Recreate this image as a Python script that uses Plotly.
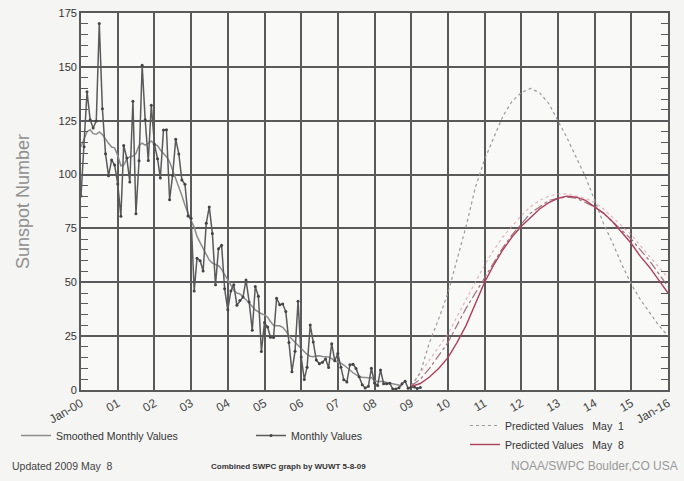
import pandas as pd
import plotly.graph_objects as go

# ---------------- data ----------------
monthly_values = [
    90.1, 112.9, 138.5, 125.5, 121.6, 124.9, 170.1, 130.5, 109.7, 99.4, 106.8, 104.4,
    95.6, 80.6, 113.5, 107.7, 96.6, 134.0, 81.8, 106.4, 150.7, 125.5, 106.5, 132.2,
    114.1, 107.4, 98.4, 120.7, 120.8, 88.3, 99.6, 116.4, 109.6, 97.5, 95.5, 80.8,
    79.7, 46.0, 61.1, 60.0, 55.2, 77.4, 85.0, 72.7, 48.8, 65.6, 67.2, 47.0,
    37.2, 46.0, 48.9, 39.3, 41.5, 43.2, 51.1, 40.9, 27.7, 48.0, 43.5, 17.9,
    31.3, 29.2, 24.5, 24.4, 42.6, 39.6, 39.9, 36.4, 22.1, 8.5, 18.0, 41.2,
    15.3, 4.9, 10.6, 30.2, 22.3, 13.9, 12.2, 12.9, 14.4, 10.4, 21.5, 13.6,
    16.9, 10.6, 4.8, 3.7, 11.7, 12.0, 10.0, 6.2, 2.4, 0.9, 1.7, 10.1,
    3.3, 2.1, 9.3, 2.9, 2.9, 3.1, 0.5, 0.5, 1.1, 2.9, 4.1, 0.8,
    1.5, 1.4, 0.7, 1.2,
]
smoothed_values = [
    112.9, 116.8, 119.9, 120.8, 119.0, 118.7, 119.8, 118.6, 116.2, 114.5, 112.8, 112.4,
    108.8, 104.1, 104.4, 107.2, 108.3, 108.6, 109.8, 113.5, 114.6, 113.7, 114.5, 115.6,
    114.0, 113.4, 111.4, 109.6, 108.3, 105.9, 102.0, 98.2, 94.8, 90.3, 85.8, 81.9,
    78.6, 75.6, 71.3, 68.4, 65.8, 63.3, 60.3, 58.9, 58.3, 57.7, 56.0, 53.8,
    51.0, 48.7, 46.2, 45.0, 44.6, 43.4, 41.9, 40.4, 38.8, 37.2, 36.3, 35.4,
    34.9, 33.8, 31.8, 30.0, 29.8, 29.8, 29.1, 27.4, 25.1, 23.6, 22.1, 20.7,
    19.0, 17.4, 16.5, 15.7, 15.4, 15.8, 15.9, 15.6, 15.3, 15.3, 14.6, 13.5,
    13.0, 12.5, 11.6, 10.6, 9.3, 8.0, 7.0, 6.2, 5.9, 5.7, 5.7, 5.8,
    4.3, 4.0, 4.1, 4.0, 3.5, 3.2, 3.1, 2.8, 2.5, 2.0,
]
# predictions, quarterly from Jan 2009 to Jan 2016
pred_may1_high = [2, 8, 22, 33, 45, 60, 76, 94, 107, 117, 127, 134, 138, 140, 138, 133,
                  125, 117, 108, 99, 88, 77, 68, 58, 49, 42, 36, 30, 25]
pred_may1_low = [2, 5, 10, 16, 22, 30, 38, 45, 52, 59, 66, 72, 77, 82, 85, 88,
                 89, 89.5, 89, 87, 85, 82, 78, 74, 70, 65, 60, 54, 48]
pred_may8 = [1.7, 3, 6, 10, 15, 22, 30, 40, 50, 58, 65, 71, 76, 80, 84, 87,
             89, 90, 89.5, 88, 85, 82, 78, 73, 68, 62, 57, 51, 45]
pred_may8_band = [2, 8, 14, 20, 26, 34, 42, 50, 58, 65, 71, 76, 81, 85, 88, 90,
                  91, 91, 90, 89, 87, 84, 80, 76, 72, 67, 62, 57, 52]

tick_labels = ["Jan-00", "01", "02", "03", "04", "05", "06", "07", "08", "09",
               "10", "11", "12", "13", "14", "15", "Jan-16"]

monthly_dates = pd.date_range("2000-01-01", periods=len(monthly_values), freq="MS")
smoothed_dates = pd.date_range("2000-01-01", periods=len(smoothed_values), freq="MS")
pred_dates = pd.date_range("2009-01-01", periods=len(pred_may8), freq="QS")
tick_dates = pd.date_range("2000-01-01", periods=len(tick_labels), freq="YS")

fig = go.Figure()

fig.add_trace(go.Scatter(
    x=smoothed_dates, y=smoothed_values, mode="lines", name="Smoothed Monthly Values",
    line=dict(color="#8c8c8c", width=1.5), legend="legend"))
fig.add_trace(go.Scatter(
    x=monthly_dates, y=monthly_values, mode="lines+markers", name="Monthly Values",
    line=dict(color="#5a5a5a", width=1.5), marker=dict(size=3, color="#444444"),
    legend="legend"))
fig.add_trace(go.Scatter(
    x=pred_dates, y=pred_may8_band, mode="lines", showlegend=False,
    line=dict(color="rgba(220,150,170,0.7)", width=1.2, dash="dot"), hoverinfo="skip"))
fig.add_trace(go.Scatter(
    x=pred_dates, y=pred_may1_high, mode="lines",
    name="Predicted Values&nbsp;&nbsp;&nbsp;May&nbsp;&nbsp;1",
    line=dict(color="#9a9a9a", width=1.2, dash="dot"), legend="legend2"))
fig.add_trace(go.Scatter(
    x=pred_dates, y=pred_may1_low, mode="lines", showlegend=False,
    line=dict(color="#a07080", width=1.2, dash="dashdot"), legend="legend2"))
fig.add_trace(go.Scatter(
    x=pred_dates, y=pred_may8, mode="lines",
    name="Predicted Values&nbsp;&nbsp;&nbsp;May&nbsp;&nbsp;8",
    line=dict(color="#b0405a", width=1.4), legend="legend2"))

grid_c = "#5a5a5a"
fig.update_xaxes(
    type="date", range=["2000-01-01", "2016-01-01"], automargin=False,
    tickvals=tick_dates, ticktext=tick_labels, tickangle=-30,
    showgrid=True, gridcolor=grid_c, gridwidth=1.8,
    showline=True, linecolor=grid_c, linewidth=1.8, mirror=True,
    ticks="", tickfont=dict(family="Liberation Sans, Arial", size=12, color="#444"),
    zeroline=False,
)
fig.update_yaxes(
    range=[0, 175], dtick=25, tick0=0, automargin=False,
    showgrid=True, gridcolor=grid_c, gridwidth=1.8,
    showline=True, linecolor=grid_c, linewidth=1.8, mirror="allticks",
    ticks="inside", ticklen=7, tickcolor=grid_c, tickwidth=1.2,
    minor=dict(dtick=5, ticks="inside", ticklen=7, tickcolor=grid_c, tickwidth=1.2, showgrid=False),
    tickfont=dict(family="Liberation Sans, Arial", size=11, color="#333"),
    title=dict(text="Sunspot Number", font=dict(family="Liberation Sans, Arial", size=18, color="#909090"),
               standoff=24),
    zeroline=False,
)

W, H = 684, 481
L, T = 81, 13
pw, ph = 587, 377
R = W - L - pw
B = H - T - ph


def px(x):
    return (x - L) / pw


def py(y):
    return (T + ph - y) / ph


legend_font = dict(family="Liberation Sans, Arial", size=10.5, color="#333")
fig.update_layout(
    width=W, height=H,
    margin=dict(l=L, r=R, t=T, b=B, autoexpand=False),
    paper_bgcolor="#f5f5f3", plot_bgcolor="#f9f9f8",
    legend=dict(orientation="h", x=px(16), y=py(421), xanchor="left", yanchor="top",
                font=legend_font, bgcolor="rgba(0,0,0,0)", entrywidth=190,
                entrywidthmode="pixels"),
    legend2=dict(orientation="v", x=px(465), y=py(411), xanchor="left", yanchor="top",
                 font=legend_font, bgcolor="rgba(0,0,0,0)"),
    showlegend=True,
)

ann_font = "Liberation Sans, Arial"
fig.add_annotation(text="Updated 2009 May  8", x=px(10), y=py(466), xref="paper", yref="paper",
                   xanchor="left", yanchor="middle", showarrow=False,
                   font=dict(family=ann_font, size=10.5, color="#444"))
fig.add_annotation(text="<b>Combined SWPC graph by WUWT 5-8-09</b>", x=px(288), y=py(466),
                   xref="paper", yref="paper", xanchor="center", yanchor="middle", showarrow=False,
                   font=dict(family=ann_font, size=8, color="#333"))
fig.add_annotation(text="NOAA/SWPC Boulder,CO USA", x=px(680), y=py(466), xref="paper", yref="paper",
                   xanchor="right", yanchor="middle", showarrow=False,
                   font=dict(family=ann_font, size=12, color="#999"))

# remove the browser's default 8px body margin so the figure fills the window
fig.write_html("out.html", config={"displayModeBar": False},
               post_script="document.body.style.margin='0px';")
